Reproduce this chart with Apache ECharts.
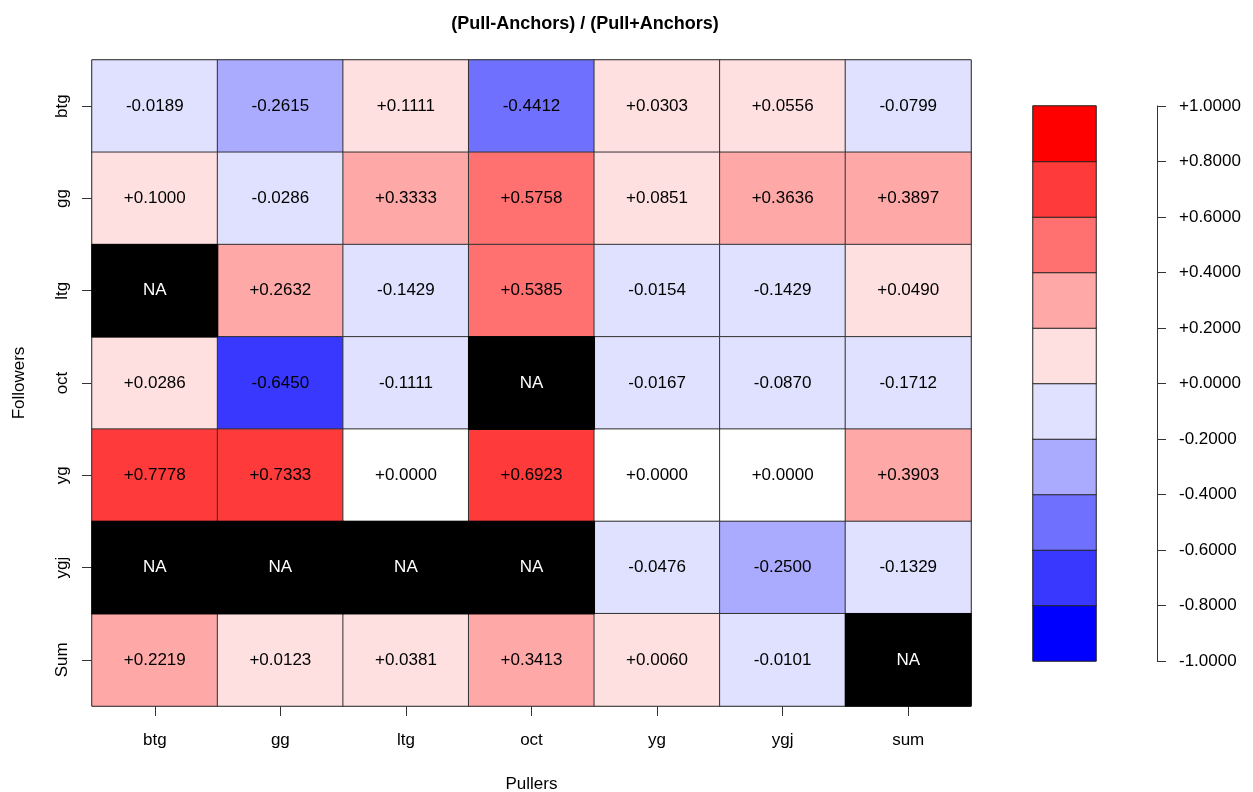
<!DOCTYPE html>
<html>
<head>
<meta charset="utf-8">
<title>(Pull-Anchors) / (Pull+Anchors)</title>
<script src="https://cdn.jsdelivr.net/npm/echarts@6/dist/echarts.min.js"></script>
<style>
  html, body { margin: 0; padding: 0; background: #fff; }
  #chart { width: 1253px; height: 792px; }
</style>
</head>
<body>
<div id="chart"></div>
<script>
// Pullers along the bottom, followers down the side
const pullers = ['btg', 'gg', 'ltg', 'oct', 'yg', 'ygj', 'sum'];
const followers = ['btg', 'gg', 'ltg', 'oct', 'yg', 'ygj', 'Sum'];

// One row per follower, one entry per puller; null marks a missing (NA) cell
const rowBtg = [-0.0189, -0.2615, 0.1111, -0.4412, 0.0303, 0.0556, -0.0799];
const rowGg  = [0.1000, -0.0286, 0.3333, 0.5758, 0.0851, 0.3636, 0.3897];
const rowLtg = [null, 0.2632, -0.1429, 0.5385, -0.0154, -0.1429, 0.0490];
const rowOct = [0.0286, -0.6450, -0.1111, null, -0.0167, -0.0870, -0.1712];
const rowYg  = [0.7778, 0.7333, 0.0000, 0.6923, 0.0000, 0.0000, 0.3903];
const rowYgj = [null, null, null, null, -0.0476, -0.2500, -0.1329];
const rowSum = [0.2219, 0.0123, 0.0381, 0.3413, 0.0060, -0.0101, null];
const rows = [rowBtg, rowGg, rowLtg, rowOct, rowYg, rowYgj, rowSum];

// Colour key: ten bands of width 0.2 from -1 to +1 (band centres)
const keyBands = [-0.9, -0.7, -0.5, -0.3, -0.1, 0.1, 0.3, 0.5, 0.7, 0.9];
const keyTicks = { min: -1, max: 1, step: 0.2 };

const fmt = v => (Math.abs(v) < 1e-9 ? '+0.0000' : (v > 0 ? '+' : '') + v.toFixed(4));

const cells = [];
const naCells = [];
rows.forEach((row, yi) => {
  row.forEach((v, xi) => {
    if (v === null) naCells.push([xi, yi, 0]);
    else cells.push([xi, yi, v]);
  });
});
const keyData = keyBands.map((v, i) => [0, i, v]);

const FONT = '"Liberation Sans", Arial, Helvetica, sans-serif';
const FS = 17;
const chart = echarts.init(document.getElementById('chart'), null, { renderer: 'canvas' });

chart.setOption({
  animation: false,
  backgroundColor: '#ffffff',
  textStyle: { fontFamily: FONT, color: '#000' },
  title: {
    text: '(Pull-Anchors) / (Pull+Anchors)',
    left: 580,
    top: 10,
    textAlign: 'center',
    textStyle: { fontFamily: FONT, fontSize: 18, fontWeight: 'bold', color: '#000' }
  },
  grid: [
    { left: 92, top: 60, width: 879, height: 646, outerBoundsMode: 'none', containLabel: false,
      show: true, borderColor: '#333', borderWidth: 1, backgroundColor: 'transparent' },
    { left: 1033, top: 106, width: 63, height: 555, outerBoundsMode: 'none', containLabel: false },
    { left: 1157, top: 106, width: 1, height: 555, outerBoundsMode: 'none', containLabel: false }
  ],
  xAxis: [
    {
      type: 'category', gridIndex: 0, data: pullers,
      axisLine: { show: false },
      axisTick: { show: true, length: 10, alignWithLabel: true, lineStyle: { color: '#333' } },
      axisLabel: { margin: 26, fontSize: FS, color: '#000', fontFamily: FONT },
      splitLine: { show: false },
      name: 'Pullers', nameLocation: 'middle', nameGap: 70,
      nameTextStyle: { fontSize: FS, color: '#000', fontFamily: FONT }
    },
    { type: 'category', gridIndex: 1, data: [''], show: false },
    { type: 'value', gridIndex: 2, show: false }
  ],
  yAxis: [
    {
      type: 'category', gridIndex: 0, data: followers, inverse: true,
      axisLine: { show: false },
      axisTick: { show: true, length: 10, alignWithLabel: true, lineStyle: { color: '#333' } },
      axisLabel: { margin: 21, fontSize: FS, rotate: 90, color: '#000', fontFamily: FONT },
      splitLine: { show: false },
      name: 'Followers', nameLocation: 'middle', nameGap: 64, nameRotate: 90,
      nameTextStyle: { fontSize: FS, color: '#000', fontFamily: FONT }
    },
    { type: 'category', gridIndex: 1, data: keyBands.map(String), show: false },
    {
      type: 'value', gridIndex: 2, position: 'right',
      min: keyTicks.min, max: keyTicks.max, interval: keyTicks.step,
      axisLine: { show: true, lineStyle: { color: '#333' } },
      axisTick: { show: true, length: 9, lineStyle: { color: '#333' } },
      axisLabel: { margin: 21, fontSize: FS, color: '#000', fontFamily: FONT, formatter: fmt },
      splitLine: { show: false }
    }
  ],
  visualMap: {
    type: 'piecewise',
    show: false,
    seriesIndex: [0, 2],
    dimension: 2,
    pieces: [
      { value: 0, color: '#ffffff' },
      { gte: 0.8, lte: 1, color: '#ff0000' },
      { gte: 0.6, lt: 0.8, color: '#ff3a3a' },
      { gte: 0.4, lt: 0.6, color: '#ff7070' },
      { gte: 0.2, lt: 0.4, color: '#ffa8a8' },
      { gt: 0, lt: 0.2, color: '#ffe0e0' },
      { gt: -0.2, lt: 0, color: '#e0e0ff' },
      { gt: -0.4, lte: -0.2, color: '#aaaaff' },
      { gt: -0.6, lte: -0.4, color: '#7070ff' },
      { gt: -0.8, lte: -0.6, color: '#3838ff' },
      { gte: -1, lte: -0.8, color: '#0000ff' }
    ]
  },
  series: [
    {
      type: 'heatmap', xAxisIndex: 0, yAxisIndex: 0, data: cells,
      itemStyle: { borderColor: '#333', borderWidth: 1 },
      label: {
        show: true, fontSize: FS, color: '#000', fontFamily: FONT,
        formatter: p => fmt(p.value[2])
      },
      emphasis: { disabled: true }
    },
    {
      type: 'heatmap', xAxisIndex: 0, yAxisIndex: 0, data: naCells,
      itemStyle: { color: '#000000', borderColor: '#000', borderWidth: 1 },
      label: { show: true, fontSize: FS, color: '#ffffff', fontFamily: FONT, formatter: 'NA' },
      emphasis: { disabled: true }
    },
    {
      type: 'heatmap', xAxisIndex: 1, yAxisIndex: 1, data: keyData,
      itemStyle: { borderColor: '#222', borderWidth: 1 },
      label: { show: false },
      emphasis: { disabled: true }
    }
  ]
});
</script>
</body>
</html>
